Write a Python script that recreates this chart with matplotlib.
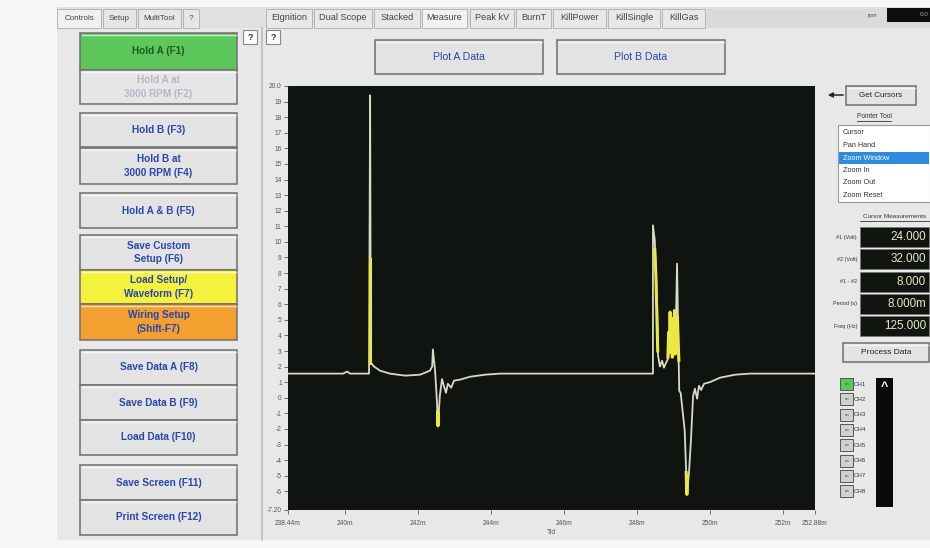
"""
Ignition scope screen: waveform window with control panels round it.
"""
import matplotlib.pyplot as plt
from matplotlib.patches import Rectangle

# ---- waveform data (time in ms, volts) ----
trace_t = [238.44, 239.95, 240.06, 240.14, 240.66, 240.69, 240.71, 240.80, 240.96,
           241.23, 241.65, 242.06, 242.33, 242.39, 242.41, 242.47, 242.52, 242.55,
           242.60, 242.66, 242.71, 242.77, 242.82, 242.91, 242.99, 243.15, 243.43,
           243.84, 244.25, 248.44, 248.44, 248.49, 248.55, 248.58, 248.63, 248.69,
           248.74, 248.80, 248.85, 248.91, 248.97, 249.02, 249.07, 249.10, 249.13,
           249.16, 249.20, 249.31, 249.37, 249.43, 249.48, 249.54, 249.59, 249.65,
           249.70, 249.76, 249.84, 250.00, 250.28, 250.69, 251.10, 252.88]
trace_v = [1.55, 1.55, 1.68, 1.55, 1.55, 19.4, 2.25, 2.0, 1.74,
           1.55, 1.42, 1.48, 1.74, 2.0, 3.1, 1.74, -0.2, -1.8,
           0.13, 1.2, 0.77, 0.32, 0.9, 0.64, 1.1, 1.16, 1.35,
           1.48, 1.55, 1.55, 11.06, 10.1, 6.24, 2.7, 2.0, 2.38,
           1.93, 2.25, 2.5, 3.67, 2.6, 4.4, 4.95, 8.6, 4.3,
           0.45, 0.3, -2.1, -6.17, -4.7, -2.77, 0.13, 0.58, -0.06,
           0.77, 0.5, 0.9, 1.0, 1.29, 1.48, 1.55, 1.55]

# yellow highlighted parts of the trace
spike1_t = [240.70, 240.70]
spike1_v = [2.2, 8.9]
dip1_t = [242.54, 242.55, 242.56]
dip1_v = [-0.9, -1.8, -1.0]
rise2_t = [248.49, 248.52, 248.55, 248.57]
rise2_v = [9.5, 7.8, 5.0, 3.0]
burst_t = [248.85, 248.87, 248.89, 248.91, 248.93, 248.95, 248.97, 248.99,
           249.01, 249.03, 249.05, 249.07, 249.09, 249.11, 249.13, 249.15]
burst_v = [2.6, 4.2, 2.9, 5.5, 3.2, 5.1, 2.6, 4.8, 3.4, 5.6, 2.8, 4.6, 3.0, 5.2, 3.6, 2.4]
dip2_t = [249.35, 249.37, 249.39]
dip2_v = [-4.8, -6.2, -5.0]

y_ticks = [20.0] + list(range(19, -7, -1)) + [-7.2]
y_labels = ['20.0'] + [str(v) for v in range(19, -7, -1)] + ['-7.20']
x_ticks = [238.44, 240, 242, 244, 246, 248, 250, 252, 252.88]
x_labels = ['238.44m', '240m', '242m', '244m', '246m', '248m', '250m', '252m', '252.88m']

left_tabs = ['Controls', 'Setup', 'MultiTool', '?']
top_tabs = ['EIgnition', 'Dual Scope', 'Stacked', 'Measure', 'Peak kV', 'BurnT',
            'KillPower', 'KillSingle', 'KillGas']
pointer_items = ['Cursor', 'Pan Hand', 'Zoom Window', 'Zoom In', 'Zoom Out', 'Zoom Reset']
meas_labels = ['#1 (Volt)', '#2 (Volt)', '#1 - #2', 'Period (s)', 'Freq (Hz)']
meas_values = ['24.000', '32.000', '8.000', '8.000m', '125.000']
channels = ['CH1', 'CH2', 'CH3', 'CH4', 'CH5', 'CH6', 'CH7', 'CH8']

plt.rcParams['font.family'] = ['Liberation Sans', 'DejaVu Sans']

W, H = 930, 548
fig = plt.figure(figsize=(W / 100, H / 100), dpi=100)
fig.patch.set_facecolor('#f7f7f7')

# overlay axes in pixel coordinates for the panels
ui = fig.add_axes([0, 0, 1, 1])
ui.set_xlim(0, W)
ui.set_ylim(H, 0)
ui.axis('off')


def box(x0, y0, x1, y1, fc, ec='none', lw=0.8, z=1):
    ui.add_patch(Rectangle((x0, y0), x1 - x0, y1 - y0, facecolor=fc,
                           edgecolor=ec, linewidth=lw, zorder=z))


def button(x0, y0, x1, y1, label, fc='#e3e3e3', tc='#2846b0', size=7.2, weight='bold'):
    box(x0, y0, x1, y1, fc, ec='#6e6e6e', lw=1.1, z=2)
    ui.plot([x0 + 1.5, x1 - 1.5], [y0 + 1.8, y0 + 1.8], color='white', lw=1, alpha=0.7, zorder=3)
    ui.text((x0 + x1) / 2, (y0 + y1) / 2, label, ha='center', va='center', color=tc,
            fontsize=size, fontweight=weight, linespacing=1.4, zorder=4)


# panel backgrounds
box(57, 7, 930, 540, '#e8e8e8')
box(57, 7, 930, 28, '#e0e0e0')
ui.plot([262, 262], [28, 540], color='#bdbdbd', lw=1.2, zorder=2)

# tabs, left
tab_x = [(57, 101), (103, 136), (138, 181), (183, 199)]
for (a, b), name in zip(tab_x, left_tabs):
    box(a, 9, b, 28, '#f0f0f0' if name == 'Controls' else '#e6e6e6', ec='#b5b5b5', lw=0.7)
    ui.text((a + b) / 2, 18, name, ha='center', va='center', fontsize=5.8, color='#444')

# tabs, main
tab_x = [(266, 312), (314, 372), (374, 420), (422, 467), (470, 514), (516, 551),
         (553, 606), (608, 660), (662, 705)]
for (a, b), name in zip(tab_x, top_tabs):
    box(a, 9, b, 28, '#f2f2f2' if name == 'Measure' else '#e8e8e8', ec='#b5b5b5', lw=0.7)
    ui.text((a + b) / 2, 18, name, ha='center', va='center', fontsize=6.6, color='#444')
box(707, 9, 930, 28, '#dadada')
ui.text(872, 15, 'rpm', ha='center', va='center', fontsize=4, color='#555')
box(887, 8, 930, 22, '#0e0e0e')
ui.text(928, 15, '0.0', ha='right', va='center', fontsize=4.5, color='#aaa')

# help boxes
for a in (243, 266):
    box(a, 30, a + 14, 44, '#fbfbfb', ec='#888', lw=0.8)
    ui.text(a + 7, 37, '?', ha='center', va='center', fontsize=6.5, color='#333', fontweight='bold')

# left column buttons
button(80, 33, 237, 70, 'Hold A (F1)', fc='#5ec75c', tc='#1f5a1f')
button(80, 70, 237, 104, 'Hold A at\n3000 RPM (F2)', fc='#e6e6e6', tc='#b4b8c8')
button(80, 113, 237, 147, 'Hold B (F3)')
button(80, 148, 237, 184, 'Hold B at\n3000 RPM (F4)')
button(80, 193, 237, 228, 'Hold A & B (F5)')
button(80, 235, 237, 270, 'Save Custom\nSetup (F6)')
button(80, 270, 237, 304, 'Load Setup/\nWaveform (F7)', fc='#f5f23e', tc='#2846b0')
button(80, 304, 237, 340, 'Wiring Setup\n(Shift-F7)', fc='#f3a030', tc='#2846b0')
button(80, 350, 237, 385, 'Save Data A (F8)')
button(80, 385, 237, 420, 'Save Data B (F9)')
button(80, 420, 237, 455, 'Load Data (F10)')
button(80, 465, 237, 500, 'Save Screen (F11)')
button(80, 500, 237, 535, 'Print Screen (F12)')

# plot buttons
button(375, 40, 543, 74, 'Plot A Data', size=7.6, weight='normal')
button(557, 40, 725, 74, 'Plot B Data', size=7.6, weight='normal')

# right panel
ui.annotate('', xy=(825, 95), xytext=(846, 95),
            arrowprops=dict(arrowstyle='-|>', color='#222', lw=1.1, mutation_scale=7))
button(846, 86, 916, 105, 'Get Cursors', tc='#222', size=5.8, weight='normal')
ui.text(874, 117, 'Pointer Tool', ha='center', va='center', fontsize=4.8, color='#333')
ui.plot([857, 891], [121, 121], color='#333', lw=0.6)
box(838, 125, 930, 202, '#ffffff', ec='#999', lw=0.8)
for i, item in enumerate(pointer_items):
    yy = 133 + i * 12.5
    if item == 'Zoom Window':
        box(839, yy - 6, 929, yy + 6, '#2e8be0', z=2)
    ui.text(843, yy, item, ha='left', va='center', fontsize=5.2, zorder=3,
            color='white' if item == 'Zoom Window' else '#333')
ui.text(895, 217, 'Cursor Measurements', ha='center', va='center', fontsize=4.6, color='#333')
ui.plot([860, 930], [221, 221], color='#333', lw=0.6)
for i, (lab, val) in enumerate(zip(meas_labels, meas_values)):
    yy = 237 + i * 22.3
    ui.text(857, yy, lab, ha='right', va='center', fontsize=4, color='#333')
    box(860, yy - 10, 929, yy + 10, '#101510', ec='#777', lw=0.6)
    ui.text(926, yy, val, ha='right', va='center', fontsize=8.4, color='#e6e8c8')
button(843, 343, 929, 362, 'Process Data', tc='#222', size=6, weight='normal')

for i, ch in enumerate(channels):
    yy = 384 + i * 15.3
    box(840, yy - 6, 853, yy + 6, '#5ac85a' if i == 0 else '#d0d0d0', ec='#555', lw=0.7)
    ui.text(847, yy, 'on', ha='center', va='center', fontsize=3, color='#333')
    ui.text(854, yy, ch, ha='left', va='center', fontsize=4.4, color='#333')
box(876, 378, 893, 507, '#0a0a0a')
ui.text(884.5, 387, '^', ha='center', va='center', fontsize=9, color='white', fontweight='bold')

# ---- scope window ----
ax = fig.add_axes([288 / W, 1 - 510 / H, (815 - 288) / W, (510 - 86) / H])
ax.set_facecolor('#101411')
ax.plot(trace_t, trace_v, color='#d9d9c6', lw=1.3)
for tt, vv in [(spike1_t, spike1_v), (dip1_t, dip1_v), (rise2_t, rise2_v),
               (burst_t, burst_v), (dip2_t, dip2_v)]:
    ax.plot(tt, vv, color='#ede840', lw=2.2)
ax.set_xlim(x_ticks[0], x_ticks[-1])
ax.set_ylim(-7.2, 20.0)
ax.set_yticks(y_ticks)
ax.set_yticklabels(y_labels)
ax.set_xticks(x_ticks)
ax.set_xticklabels(x_labels)
ax.tick_params(axis='both', length=3, width=0.6, colors='#555', labelsize=4.8, pad=1.5)
ax.tick_params(axis='x', pad=4)
for s in ax.spines.values():
    s.set_visible(False)
ax.set_xlabel('Tid', fontsize=4.8, color='#555', labelpad=2)

fig.savefig('out.png', dpi=100, facecolor=fig.get_facecolor())
